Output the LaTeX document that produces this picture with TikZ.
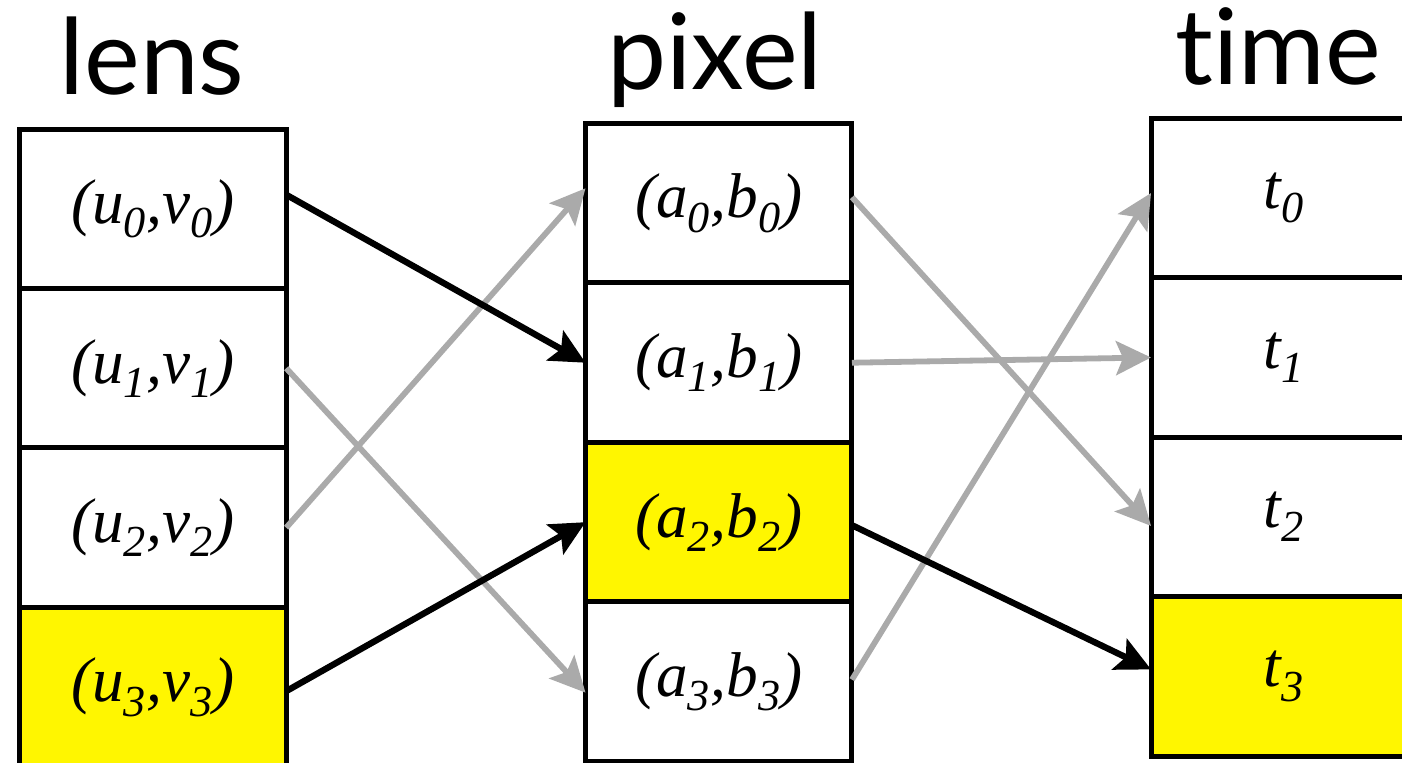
\documentclass[tikz,border=0pt]{standalone}
\usepackage{fontspec}
\setmainfont{Liberation Serif}
\newfontfamily\cellfont{Liberation Serif}
\newfontfamily\headfont[Ligatures=NoCommon]{Lato}
\usetikzlibrary{positioning,arrows.meta}

\definecolor{linkgray}{RGB}{170,170,170}
\definecolor{hiyellow}{RGB}{255,246,0}

\begin{document}
\begin{tikzpicture}[x=0.02cm,y=-0.02cm,
  >={Stealth[length=0.7cm,width=0.68cm,inset=0.14cm]},
  cell/.style={draw,line width=2.85pt,minimum width=5.33cm,minimum height=3.19cm,
    outer sep=0pt,inner sep=0pt,font=\cellfont\itshape\fontsize{36}{40}\selectfont},
  hot/.style={cell,fill=hiyellow},
  head/.style={anchor=base,font=\headfont\fontsize{60}{66}\selectfont},
  link/.style={->,line width=3.3pt,linkgray},
  key/.style={->,line width=3.6pt,black}]

\useasboundingbox (0,0) rectangle (1402,763);
\clip (0,0) rectangle (1402,763);

%------------------------------------------------
% LEFT: lens samples
%------------------------------------------------
\node[head] (lens) at (152,95) {lens};

\node[cell] (u0) at (153,208.75) {(u\textsubscript{0},v\textsubscript{0})};
\node[cell,below=0pt of u0] (u1) {(u\textsubscript{1},v\textsubscript{1})};
\node[cell,below=0pt of u1] (u2) {(u\textsubscript{2},v\textsubscript{2})};
\node[hot,below=0pt of u2] (u3) {(u\textsubscript{3},v\textsubscript{3})};

%------------------------------------------------
% MIDDLE: pixel samples
%------------------------------------------------
\node[head] (pixel) at (715,90) {pixel};

\node[cell] (a0) at (718.75,203.25) {(a\textsubscript{0},b\textsubscript{0})};
\node[cell,below=0pt of a0] (a1) {(a\textsubscript{1},b\textsubscript{1})};
\node[hot,below=0pt of a1] (a2) {(a\textsubscript{2},b\textsubscript{2})};
\node[cell,below=0pt of a2] (a3) {(a\textsubscript{3},b\textsubscript{3})};

%------------------------------------------------
% RIGHT: time samples
%------------------------------------------------
\node[head] (time) at (1278,85) {time};

\node[cell] (t0) at (1284.25,198) {t\textsubscript{0}};
\node[cell,below=0pt of t0] (t1) {t\textsubscript{1}};
\node[cell,below=0pt of t1] (t2) {t\textsubscript{2}};
\node[hot,below=0pt of t2] (t3) {t\textsubscript{3}};

% lens -> pixel
\draw[link] (u1.east) -- ([yshift=-0.22cm]a3.west);
\draw[link] (u2.east) -- ([yshift=0.3cm]a0.west);
\draw[key] ([yshift=0.28cm]u0.east) -- (a1.west);
\draw[key] ([yshift=-0.08cm]u3.east) -- (a2.west);

% pixel -> time
\draw[link] ([yshift=0.12cm]a0.east) -- ([yshift=-0.18cm]t2.west);
\draw[link] (a1.east) -- (t1.west);
\draw[link] ([yshift=0.04cm]a3.east) -- ([yshift=0.1cm]t0.west);
\draw[key] ([yshift=-0.06cm]a2.east) -- ([yshift=0.14cm]t3.west);

\end{tikzpicture}
\end{document}
